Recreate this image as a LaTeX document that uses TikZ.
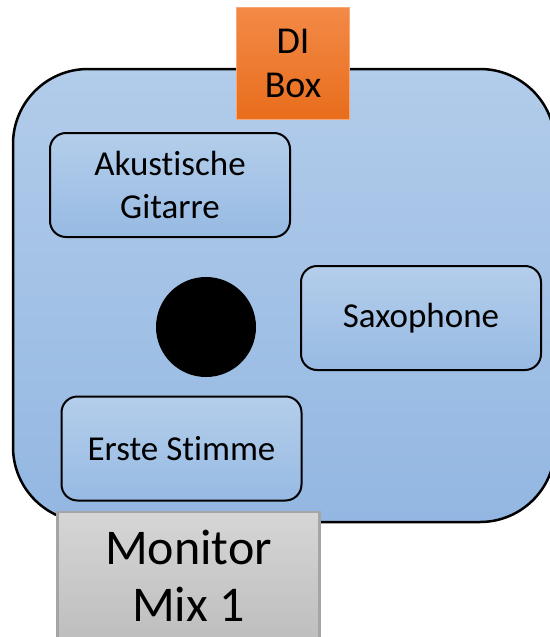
\documentclass[tikz,border=0pt]{standalone}
\usepackage{fontspec}
\setmainfont[Ligatures={NoCommon,NoRare}]{Carlito}
\definecolor{bigtop}{HTML}{B2CCEA}
\definecolor{bigbot}{HTML}{93B7E2}
\definecolor{boxtop}{HTML}{B4CEEB}
\definecolor{boxbot}{HTML}{97BAE3}
\definecolor{ortop}{HTML}{F38A47}
\definecolor{orbot}{HTML}{E86D1C}
\definecolor{orline}{HTML}{F6A878}
\definecolor{grtop}{HTML}{D6D6D6}
\definecolor{grbot}{HTML}{BEBEBE}
\definecolor{grline}{HTML}{A5A5A5}
\begin{document}
\begin{tikzpicture}[x=1pt,y=-1pt,
  stage/.style={draw=black,line width=2.5pt,rounded corners=75pt,top color=bigtop,bottom color=bigbot,minimum width=542pt,minimum height=453pt,inner sep=0pt},
  instr/.style={draw=black,line width=2pt,rounded corners=16pt,top color=boxtop,bottom color=boxbot,minimum width=240pt,minimum height=104pt,inner sep=0pt,align=center,font=\fontsize{35}{43}\selectfont},
  dibox/.style={draw=orline,line width=1.5pt,top color=ortop,bottom color=orbot,minimum width=113pt,minimum height=112pt,inner sep=0pt,align=center,font=\fontsize{38}{44}\selectfont},
  monbox/.style={draw=grline,line width=2.5pt,top color=grtop,bottom color=grbot,minimum width=262pt,minimum height=128pt,inner sep=0pt,align=center,font=\fontsize{50}{57}\selectfont},
  spot/.style={circle,fill=black,minimum size=100pt,inner sep=0pt}]
\useasboundingbox (0,0) rectangle (549,637);
\node[stage] (stage) at (284,295.5) {};
\node[dibox] (di) at (293,63.5) {DI\\Box};
\node[instr] (git) at (170,185) {Akustische\\Gitarre};
\node[instr] (sax) at (421,318) {Saxophone};
\node[instr] (voc) at (181.5,448.5) {Erste Stimme};
\node[spot] (spot) at (206,327) {};
\node[monbox] (mon) at (188.5,576) {Monitor\\Mix 1};
\end{tikzpicture}
\end{document}
